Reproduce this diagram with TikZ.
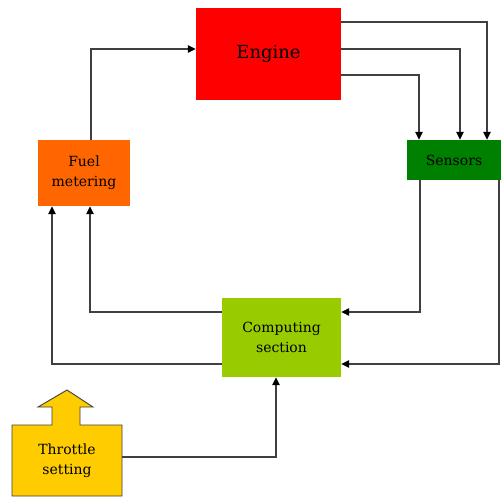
\documentclass[tikz,border=0pt]{standalone}
\usepackage{fontspec}
\setmainfont{DejaVu Serif}
\usetikzlibrary{arrows.meta}
\definecolor{engred}{HTML}{FF0000}
\definecolor{sensgreen}{HTML}{008000}
\definecolor{fuelorange}{HTML}{FF6600}
\definecolor{compgreen}{HTML}{99CC00}
\definecolor{throtyellow}{HTML}{FFCC00}
\definecolor{wire}{HTML}{404040}
\tikzset{
  block/.style={rectangle, inner sep=0pt, align=center, text=black,
    font=\fontsize{14}{20}\selectfont},
  conn/.style={draw=wire, line width=1.2pt,
    -{Triangle[length=8pt,width=7.5pt,fill=black,color=black]}},
}
\begin{document}
\begin{tikzpicture}[x=1pt,y=-1pt]
\useasboundingbox (0,0) rectangle (502,497);
\fill[white] (0,0) rectangle (502,497);

% blocks
\node[block, fill=engred, minimum width=145pt, minimum height=92pt,
  font=\fontsize{18}{22}\selectfont] (engine) at (268.5,54) {Engine};
\node[block, fill=sensgreen, minimum width=94pt, minimum height=40pt]
  (sensors) at (454,160) {Sensors};
\node[block, fill=compgreen, minimum width=119pt, minimum height=79pt]
  (computing) at (281.5,337.5) {Computing\\section};
\node[block, fill=fuelorange, minimum width=92pt, minimum height=66pt]
  (fuel) at (84,173) {Fuel\\metering};

% throttle block with its upward arrow
\filldraw[fill=throtyellow, draw=wire, line width=0.9pt]
  (12,496) -- (12,425) -- (52,425) -- (52,407) -- (38,407) -- (67,390)
  -- (93,407) -- (80,407) -- (80,425) -- (122,425) -- (122,496) -- cycle;
\node[block, minimum width=110pt, minimum height=71pt]
  (throttle) at (67,460.5) {Throttle\\setting};

% engine outputs to sensors
\draw[conn] (engine.east |- 0,22) -| (487,0 |- sensors.north);
\draw[conn] (engine.east |- 0,49) -| (460,0 |- sensors.north);
\draw[conn] (engine.east |- 0,75) -| (419,0 |- sensors.north);

% sensors to computing section
\draw[conn] (420,0 |- sensors.south) |- (computing.east |- 0,312);
\draw[conn] (499,0 |- sensors.south) |- (computing.east |- 0,364);

% computing section to fuel metering
\draw[conn] (computing.west |- 0,312) -| (90,0 |- fuel.south);
\draw[conn] (computing.west |- 0,364) -| (52,0 |- fuel.south);

% fuel metering to engine
\draw[conn] (91,0 |- fuel.north) |- (engine.west |- 0,49);

% throttle setting to computing section
\draw[conn] (throttle.east |- 0,457) -| (276,0 |- computing.south);
\end{tikzpicture}
\end{document}
